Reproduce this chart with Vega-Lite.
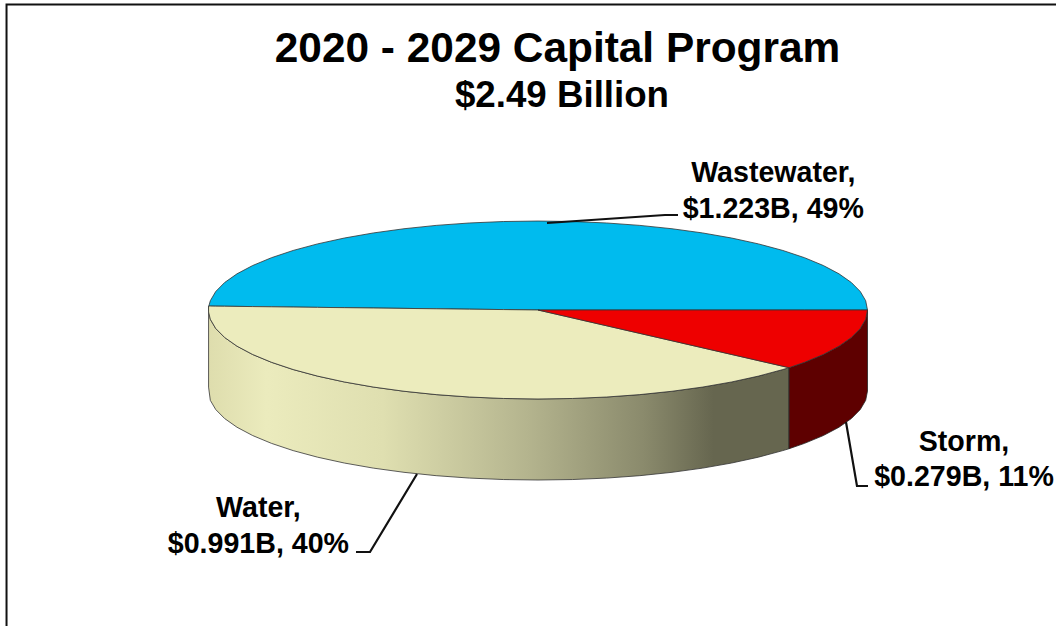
{"$schema":"https://vega.github.io/schema/vega-lite/v6.json","width":1056,"height":626,"padding":0,"autosize":"none","background":"white","view":{"stroke":null},
"title":{"text":"2020 - 2029 Capital Program","anchor":"middle","frame":"group","dx":29.5,"offset":-104,"baseline":"alphabetic","font":"Liberation Sans","fontSize":42.4,"fontWeight":"bold","color":"#000"},
"datasets":{
"waterWall":[{"x":-99.98,"y":1.2,"y2":-23.4},{"x":-99.45,"y":-2.82,"y2":-27.42},{"x":-97.81,"y":-5.61,"y2":-30.21},{"x":-95.11,"y":-8.34,"y2":-32.94},{"x":-91.35,"y":-10.98,"y2":-35.58},{"x":-86.6,"y":-13.5,"y2":-38.1},{"x":-80.9,"y":-15.87,"y2":-40.47},{"x":-74.31,"y":-18.07,"y2":-42.67},{"x":-66.91,"y":-20.06,"y2":-44.66},{"x":-58.78,"y":-21.84,"y2":-46.44},{"x":-50,"y":-23.38,"y2":-47.98},{"x":-40.67,"y":-24.66,"y2":-49.26},{"x":-30.9,"y":-25.68,"y2":-50.28},{"x":-20.79,"y":-26.41,"y2":-51.01},{"x":-10.45,"y":-26.85,"y2":-51.45},{"x":0,"y":-27,"y2":-51.6},{"x":10.45,"y":-26.85,"y2":-51.45},{"x":20.79,"y":-26.41,"y2":-51.01},{"x":30.9,"y":-25.68,"y2":-50.28},{"x":40.67,"y":-24.66,"y2":-49.26},{"x":50,"y":-23.38,"y2":-47.98},{"x":58.78,"y":-21.84,"y2":-46.44},{"x":66.91,"y":-20.06,"y2":-44.66},{"x":74.31,"y":-18.07,"y2":-42.67},{"x":76.2,"y":-17.5,"y2":-42.1}],
"stormWall":[{"x":76.2,"y":-17.5,"y2":-42.1},{"x":80.9,"y":-15.87,"y2":-40.47},{"x":86.6,"y":-13.5,"y2":-38.1},{"x":91.35,"y":-10.98,"y2":-35.58},{"x":95.11,"y":-8.34,"y2":-32.94},{"x":97.81,"y":-5.61,"y2":-30.21},{"x":99.45,"y":-2.82,"y2":-27.42},{"x":100,"y":0,"y2":-24.6}],
"tops":[
{"slice":"Wastewater","x":100,"y":0,"y2":0},{"slice":"Wastewater","x":99.45,"y":2.82,"y2":0},{"slice":"Wastewater","x":97.81,"y":5.61,"y2":0},{"slice":"Wastewater","x":95.11,"y":8.34,"y2":0},{"slice":"Wastewater","x":91.35,"y":10.98,"y2":0},{"slice":"Wastewater","x":86.6,"y":13.5,"y2":0},{"slice":"Wastewater","x":80.9,"y":15.87,"y2":0},{"slice":"Wastewater","x":74.31,"y":18.07,"y2":0},{"slice":"Wastewater","x":66.91,"y":20.06,"y2":0},{"slice":"Wastewater","x":58.78,"y":21.84,"y2":0},{"slice":"Wastewater","x":50,"y":23.38,"y2":0},{"slice":"Wastewater","x":40.67,"y":24.66,"y2":0},{"slice":"Wastewater","x":30.9,"y":25.68,"y2":0},{"slice":"Wastewater","x":20.79,"y":26.41,"y2":0},{"slice":"Wastewater","x":10.45,"y":26.85,"y2":0},{"slice":"Wastewater","x":0,"y":27,"y2":0},{"slice":"Wastewater","x":-10.45,"y":26.85,"y2":0.13},{"slice":"Wastewater","x":-20.79,"y":26.41,"y2":0.25},{"slice":"Wastewater","x":-30.9,"y":25.68,"y2":0.37},{"slice":"Wastewater","x":-40.67,"y":24.66,"y2":0.49},{"slice":"Wastewater","x":-50,"y":23.38,"y2":0.6},{"slice":"Wastewater","x":-58.78,"y":21.84,"y2":0.71},{"slice":"Wastewater","x":-66.91,"y":20.06,"y2":0.8},{"slice":"Wastewater","x":-74.31,"y":18.07,"y2":0.89},{"slice":"Wastewater","x":-80.9,"y":15.87,"y2":0.97},{"slice":"Wastewater","x":-86.6,"y":13.5,"y2":1.04},{"slice":"Wastewater","x":-91.35,"y":10.98,"y2":1.1},{"slice":"Wastewater","x":-95.11,"y":8.34,"y2":1.14},{"slice":"Wastewater","x":-97.81,"y":5.61,"y2":1.17},{"slice":"Wastewater","x":-99.45,"y":2.82,"y2":1.19},{"slice":"Wastewater","x":-99.9,"y":1.2,"y2":1.2},
{"slice":"Water","x":-99.98,"y":1.2,"y2":-0.6},{"slice":"Water","x":-99.45,"y":1.19,"y2":-2.82},{"slice":"Water","x":-97.81,"y":1.17,"y2":-5.61},{"slice":"Water","x":-95.11,"y":1.14,"y2":-8.34},{"slice":"Water","x":-91.35,"y":1.1,"y2":-10.98},{"slice":"Water","x":-86.6,"y":1.04,"y2":-13.5},{"slice":"Water","x":-80.9,"y":0.97,"y2":-15.87},{"slice":"Water","x":-74.31,"y":0.89,"y2":-18.07},{"slice":"Water","x":-66.91,"y":0.8,"y2":-20.06},{"slice":"Water","x":-58.78,"y":0.71,"y2":-21.84},{"slice":"Water","x":-50,"y":0.6,"y2":-23.38},{"slice":"Water","x":-40.67,"y":0.49,"y2":-24.66},{"slice":"Water","x":-30.9,"y":0.37,"y2":-25.68},{"slice":"Water","x":-20.79,"y":0.25,"y2":-26.41},{"slice":"Water","x":-10.45,"y":0.13,"y2":-26.85},{"slice":"Water","x":0,"y":0,"y2":-27},{"slice":"Water","x":10.45,"y":-2.4,"y2":-26.85},{"slice":"Water","x":20.79,"y":-4.78,"y2":-26.41},{"slice":"Water","x":30.9,"y":-7.1,"y2":-25.68},{"slice":"Water","x":40.67,"y":-9.34,"y2":-24.66},{"slice":"Water","x":50,"y":-11.49,"y2":-23.38},{"slice":"Water","x":58.78,"y":-13.5,"y2":-21.84},{"slice":"Water","x":66.91,"y":-15.37,"y2":-20.06},{"slice":"Water","x":74.31,"y":-17.07,"y2":-18.07},{"slice":"Water","x":76.2,"y":-17.5,"y2":-17.5},
{"slice":"Storm","x":0,"y":0,"y2":0},{"slice":"Storm","x":76.2,"y":0,"y2":-17.5},{"slice":"Storm","x":80.9,"y":0,"y2":-15.87},{"slice":"Storm","x":86.6,"y":0,"y2":-13.5},{"slice":"Storm","x":91.35,"y":0,"y2":-10.98},{"slice":"Storm","x":95.11,"y":0,"y2":-8.34},{"slice":"Storm","x":97.81,"y":0,"y2":-5.61},{"slice":"Storm","x":99.45,"y":0,"y2":-2.82},{"slice":"Storm","x":100,"y":0,"y2":0}],
"leaders":[
{"slice":"Wastewater","step":1,"x":2.73,"y":26.4},{"slice":"Wastewater","step":2,"x":38.54,"y":28.83},{"slice":"Wastewater","step":3,"x":42.49,"y":28.83},
{"slice":"Storm","step":1,"x":93.47,"y":-33.99},{"slice":"Storm","step":2,"x":96.81,"y":-53.41},{"slice":"Storm","step":3,"x":100.15,"y":-53.41},
{"slice":"Water","step":1,"x":-36.72,"y":-49.77},{"slice":"Water","step":2,"x":-50.99,"y":-73.44},{"slice":"Water","step":3,"x":-55.24,"y":-73.44}],
"labels":[
{"line":"Wastewater,","x":71.4,"y":38.9},{"line":"$1.223B, 49%","x":71.4,"y":27.9},
{"line":"Storm,","x":129.3,"y":-42.8},{"line":"$0.279B, 11%","x":129.3,"y":-53.4},
{"line":"Water,","x":-84.85,"y":-62.8},{"line":"$0.991B, 40%","x":-84.85,"y":-73.7}],
"subtitle":[{"line":"$2.49 Billion","x":7.28,"y":61.6}],
"frame":[{"step":1,"x":-161.3,"y":-95.9},{"step":2,"x":-161.3,"y":92.72},{"step":3,"x":157.21,"y":92.72}]
},
"encoding":{
"x":{"field":"x","type":"quantitative","axis":null,"scale":{"domain":[-163.28,157.21],"nice":false,"zero":false}},
"y":{"field":"y","type":"quantitative","axis":null,"scale":{"domain":[-95.9,94.08],"nice":false,"zero":false}}
},
"layer":[
{"data":{"name":"frame"},"mark":{"type":"line","color":"#111","strokeWidth":2},"encoding":{"order":{"field":"step","type":"ordinal"}}},
{"data":{"name":"waterWall"},"mark":{"type":"area","orient":"vertical","stroke":"#333","strokeWidth":0.8,"color":{"gradient":"linear","x1":0,"y1":0,"x2":1,"y2":0,"stops":[{"offset":0,"color":"#DEDDAD"},{"offset":0.1,"color":"#EBEBBD"},{"offset":0.3,"color":"#DFDFB0"},{"offset":0.55,"color":"#B4B48E"},{"offset":0.75,"color":"#8A8A6C"},{"offset":0.87,"color":"#66664F"},{"offset":1,"color":"#66664F"}]}},"encoding":{"y2":{"field":"y2"}}},
{"data":{"name":"stormWall"},"mark":{"type":"area","orient":"vertical","color":"#5E0000","stroke":"#222","strokeWidth":0.8},"encoding":{"y2":{"field":"y2"}}},
{"data":{"name":"tops"},"mark":{"type":"area","orient":"vertical","stroke":"#333","strokeWidth":0.8},"encoding":{"y2":{"field":"y2"},"color":{"field":"slice","type":"nominal","legend":null,"scale":{"domain":["Wastewater","Storm","Water"],"range":["#00BBEE","#EE0000","#ECECBD"]}}}},
{"data":{"name":"leaders"},"mark":{"type":"line","color":"#111","strokeWidth":2.2},"encoding":{"detail":{"field":"slice"},"order":{"field":"step","type":"ordinal"}}},
{"data":{"name":"labels"},"mark":{"type":"text","font":"Liberation Sans","fontSize":28.6,"fontWeight":"bold","color":"#000","align":"center","baseline":"alphabetic"},"encoding":{"text":{"field":"line"}}},
{"data":{"name":"subtitle"},"mark":{"type":"text","font":"Liberation Sans","fontSize":36.7,"fontWeight":"bold","color":"#000","align":"center","baseline":"alphabetic"},"encoding":{"text":{"field":"line"}}}
]}
